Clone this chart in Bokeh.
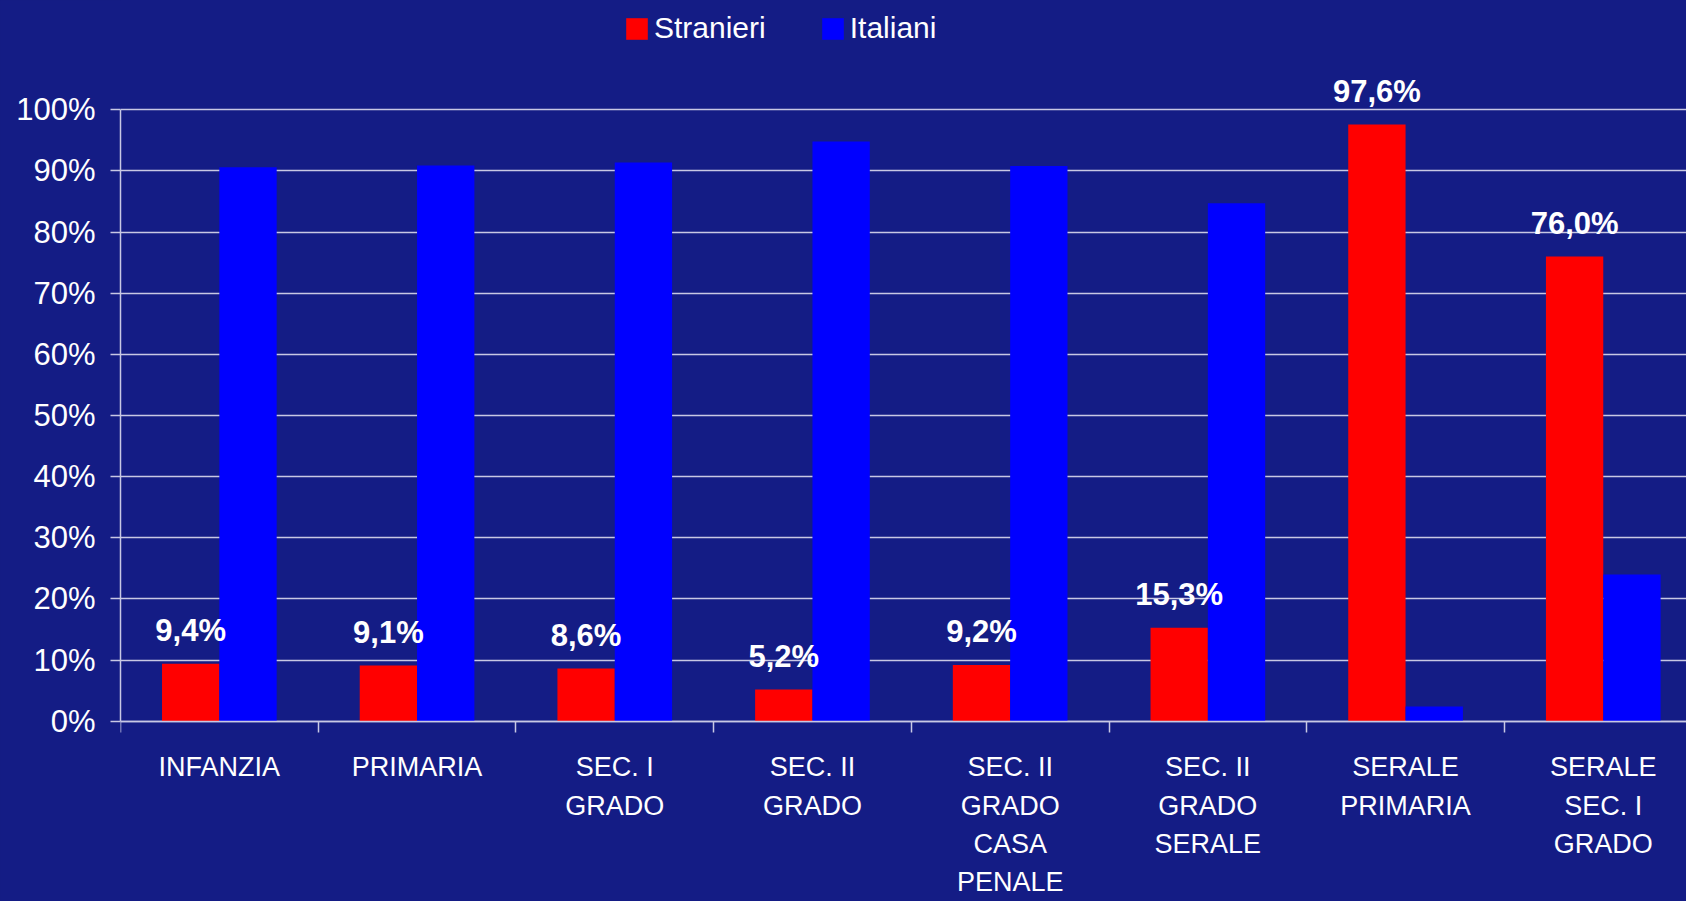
import numpy as np
from bokeh.plotting import figure
from bokeh.models import (Range1d, LinearAxis, FixedTicker, PrintfTickFormatter,
                          Legend, LegendItem, ColumnDataSource, Grid)
from bokeh.core.properties import value
from bokeh.embed import file_html
from bokeh.resources import INLINE

# ---- data ----
categories = ["INFANZIA", "PRIMARIA", "SEC. I\nGRADO", "SEC. II\nGRADO",
              "SEC. II\nGRADO\nCASA\nPENALE", "SEC. II\nGRADO\nSERALE",
              "SERALE\nPRIMARIA", "SERALE\nSEC. I\nGRADO"]
stranieri = [9.4, 9.1, 8.6, 5.2, 9.2, 15.3, 97.6, 76.0]
italiani = [90.6, 90.9, 91.4, 94.8, 90.8, 84.7, 2.4, 24.0]
series_names = ["Stranieri", "Italiani"]
y_ticks = list(range(0, 101, 10))

# ---- style ----
BG = "#141c85"
RED = "#ff0000"
BLUE = "#0000ff"
GRID = "#c8c8e4"
SANS = "Liberation Sans"

n = len(categories)
centers = np.arange(n) + 0.5
bw = 0.29
red_x = centers - bw / 2
blue_x = centers + bw / 2

p = figure(width=1686, height=901, output_backend="svg", toolbar_location=None,
           x_range=Range1d(0, 7.921), y_range=Range1d(-29.49, 117.88),
           x_axis_type=None, y_axis_type=None,
           min_border_left=120, min_border_right=0, min_border_top=0, min_border_bottom=0,
           background_fill_color=BG, border_fill_color=BG, outline_line_color=None,
           styles={"background-color": BG})

yticker = FixedTicker(ticks=y_ticks)
p.add_layout(Grid(dimension=1, ticker=yticker, grid_line_color=GRID, grid_line_width=1.5))

yaxis = LinearAxis(ticker=yticker, formatter=PrintfTickFormatter(format="%d%%"),
                   bounds=(0, 100), axis_line_color=GRID, axis_line_width=1.5,
                   major_tick_line_color=GRID, major_tick_line_width=1.5,
                   major_tick_out=10, major_tick_in=0, minor_tick_line_color=None,
                   major_label_standoff=15, major_label_text_color="white",
                   major_label_text_font=SANS, major_label_text_font_size="31px")
p.add_layout(yaxis, "left")

xticks_axis = LinearAxis(ticker=FixedTicker(ticks=list(range(n + 1))), fixed_location=0,
                         axis_line_color=GRID, axis_line_width=1.5,
                         major_tick_line_color=GRID, major_tick_line_width=1.5,
                         major_tick_out=11, major_tick_in=0, minor_tick_line_color=None,
                         major_label_text_alpha=0, major_label_text_font_size="1px")
p.add_layout(xticks_axis, "below")

xlabels_axis = LinearAxis(ticker=FixedTicker(ticks=list(centers)), fixed_location=0,
                          major_label_overrides={float(c): lab for c, lab in zip(centers, categories)},
                          axis_line_color=None, major_tick_line_color=None, minor_tick_line_color=None,
                          major_tick_out=0, major_tick_in=0, major_label_standoff=31,
                          major_label_text_color="white", major_label_text_font=SANS,
                          major_label_text_font_size="27px", major_label_text_line_height=1.28)
p.add_layout(xlabels_axis, "below")

src = ColumnDataSource(dict(red_x=red_x, blue_x=blue_x, stranieri=stranieri, italiani=italiani,
                            lab=[f"{v:.1f}%".replace(".", ",") for v in stranieri]))

r1 = p.vbar(x="red_x", top="stranieri", bottom=0, width=bw, source=src,
            fill_color=RED, line_color=None)
r2 = p.vbar(x="blue_x", top="italiani", bottom=0, width=bw, source=src,
            fill_color=BLUE, line_color=None)

p.text(x="red_x", y="stranieri", text="lab", source=src, text_align="center",
       text_baseline="alphabetic", y_offset=-33, text_color="white",
       text_font=value(SANS), text_font_style="bold", text_font_size="31px")

legend = Legend(items=[LegendItem(label=series_names[0], renderers=[r1]),
                       LegendItem(label=series_names[1], renderers=[r2])],
                orientation="horizontal", location=(503, 856),
                glyph_width=27, glyph_height=27, label_standoff=4, spacing=53,
                padding=0, margin=0, border_line_color=None, background_fill_alpha=0,
                label_text_color="white", label_text_font=SANS, label_text_font_size="30px")
p.add_layout(legend)

open("out.html", "w").write(file_html(p, INLINE))
